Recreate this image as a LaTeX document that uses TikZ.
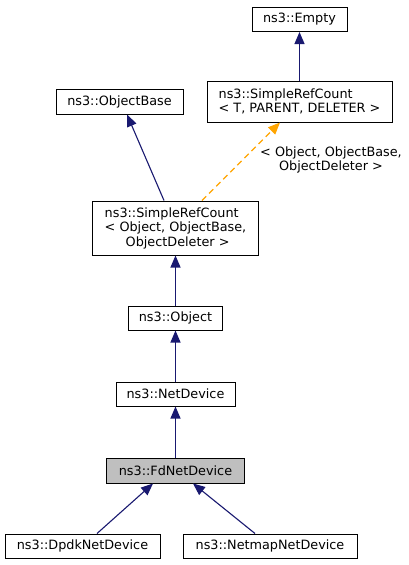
\documentclass[tikz,border=0pt]{standalone}
\usepackage{fontspec}
\setmainfont{DejaVu Sans}
\usetikzlibrary{arrows.meta}
\definecolor{navy}{HTML}{191970}
\definecolor{dorange}{HTML}{FFA500}
\definecolor{fdgray}{HTML}{BFBFBF}
\begin{document}
\begin{tikzpicture}[x=1pt,y=-1pt,
  font=\fontsize{12.8}{14.5}\selectfont,
  cls/.style={draw=black,line width=1pt,fill=white,inner sep=0pt,rectangle},
  edge/.style={draw=navy,line width=1.1pt,-{Triangle[length=12pt,width=10pt]}},
  tedge/.style={draw=dorange,line width=1.1pt,dashed,dash pattern=on 6pt off 4pt,-{Triangle[length=12pt,width=10pt]}}]
\useasboundingbox (0,0) rectangle (409,565);
\fill[white] (0,0) rectangle (409,565);
\node[cls,minimum width=95pt,minimum height=24pt] (empty) at (299.5,19.5) {ns3::Empty};
\node[cls,minimum width=185pt,minimum height=41pt,align=left] (srcT) at (299.5,101.5) {ns3::SimpleRefCount\\< T, PARENT, DELETER >};
\node[cls,minimum width=127pt,minimum height=25pt] (objbase) at (119.5,101.5) {ns3::ObjectBase};
\node[cls,minimum width=166pt,minimum height=54pt,align=left] (srcO) at (175.5,228) {ns3::SimpleRefCount\\< Object, ObjectBase,\\\hspace*{21pt}ObjectDeleter >};
\node[cls,minimum width=94pt,minimum height=24pt] (object) at (175.5,318) {ns3::Object};
\node[cls,minimum width=119pt,minimum height=24pt] (netdev) at (175.5,394) {ns3::NetDevice};
\node[cls,fill=fdgray,minimum width=138pt,minimum height=25pt] (fd) at (175.5,470.5) {ns3::FdNetDevice};
\node[cls,minimum width=155pt,minimum height=24pt] (dpdk) at (82.5,546) {ns3::DpdkNetDevice};
\node[cls,minimum width=174pt,minimum height=24pt] (netmap) at (270,546) {ns3::NetmapNetDevice};
\node[align=center,inner sep=0pt] (tlabel) at (331,160) {< Object, ObjectBase,\\ObjectDeleter >};
\draw[edge] (srcT.north) -- (empty.south);
\draw[edge] ([xshift=-11.5pt]srcO.north) -- ([xshift=7.5pt]objbase.south);
\draw[tedge] ([xshift=26.5pt]srcO.north) -- ([xshift=-19.5pt]srcT.south);
\draw[edge] (object.north) -- (object.north |- srcO.south);
\draw[edge] (netdev.north) -- (netdev.north |- object.south);
\draw[edge] (fd.north) -- (fd.north |- netdev.south);
\draw[edge] ([xshift=14.5pt]dpdk.north) -- ([xshift=-22.5pt]fd.south);
\draw[edge] ([xshift=-15pt]netmap.north) -- ([xshift=17.5pt]fd.south);
\end{tikzpicture}
\end{document}
